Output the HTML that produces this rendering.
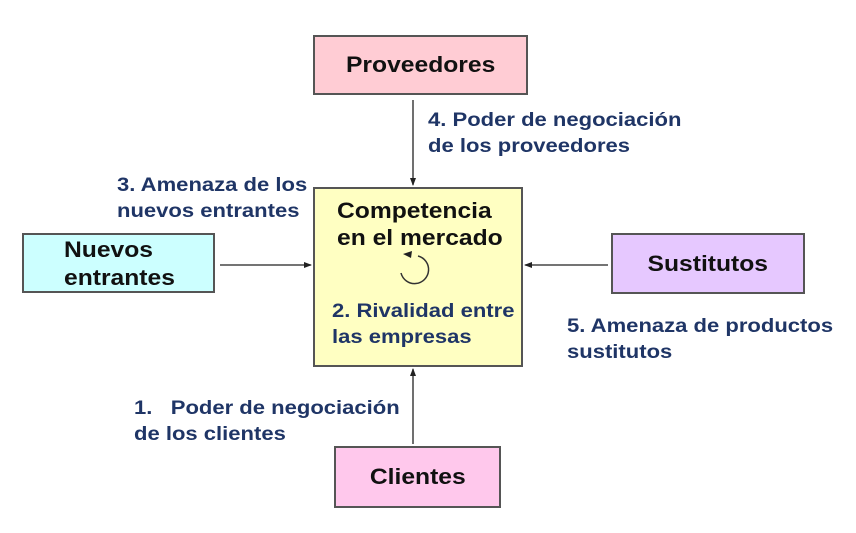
<!DOCTYPE html>
<html><head><meta charset="utf-8"><style>
body{margin:0;width:856px;height:533px;background:#fff;position:relative;overflow:hidden;font-family:"Liberation Sans",Arial,sans-serif;font-weight:bold}
.b{position:absolute;border:2px solid #555;box-sizing:border-box;color:#111;font-size:22px;display:flex;align-items:center;justify-content:center;text-align:center;line-height:1.15}
.b span,.h{display:inline-block;transform:scaleX(1.12)}
.t{position:absolute;color:#1f3566;font-size:19.5px;line-height:26px;white-space:nowrap;transform:scaleX(1.13);transform-origin:0 0}
</style></head><body>
<div class="b" style="left:313px;top:35px;width:215px;height:60px;background:#ffccd4"><span>Proveedores</span></div>
<div class="b" style="left:22px;top:233px;width:193px;height:60px;background:#ccffff;display:block;text-align:left;padding:1px 0 0 40px;line-height:28px"><span style="transform-origin:0 0">Nuevos<br>entrantes</span></div>
<div class="b" style="left:611px;top:233px;width:194px;height:61px;background:#e6c8ff"><span>Sustitutos</span></div>
<div class="b" style="left:334px;top:446px;width:167px;height:62px;background:#ffc8ec"><span>Clientes</span></div>
<div class="b" style="left:313px;top:187px;width:210px;height:180px;background:#ffffc2;display:block"></div>
<div class="t" style="left:337px;top:197px;color:#111;font-size:22px;line-height:27px;transform:scaleX(1.12)">Competencia<br>en el mercado</div>
<div class="t" style="left:332px;top:298px">2. Rivalidad entre<br>las empresas</div>
<div class="t" style="left:428px;top:107px">4. Poder de negociación<br>de los proveedores</div>
<div class="t" style="left:117px;top:172px">3. Amenaza de los<br>nuevos entrantes</div>
<div class="t" style="left:567px;top:313px">5. Amenaza de productos<br>sustitutos</div>
<div class="t" style="left:134px;top:395px">1.&nbsp;&nbsp; Poder de negociación<br>de los clientes</div>
<svg width="856" height="533" style="position:absolute;left:0;top:0">
<defs><marker id="a" markerWidth="8" markerHeight="8" refX="7" refY="4" orient="auto" markerUnits="userSpaceOnUse"><path d="M0,1 L8,4 L0,7z" fill="#222"/></marker></defs>
<g stroke="#222" stroke-width="1.3">
<line x1="413" y1="100" x2="413" y2="185" marker-end="url(#a)"/>
<line x1="220" y1="265" x2="311" y2="265" marker-end="url(#a)"/>
<line x1="608" y1="265" x2="525" y2="265" marker-end="url(#a)"/>
<line x1="413" y1="444" x2="413" y2="369" marker-end="url(#a)"/>
</g>
<path d="M418,256 A14,14 0 1 1 401,273" fill="none" stroke="#333" stroke-width="1.5"/>
<path d="M403,254 L412,251 L411,258z" fill="#222"/>
</svg>
</body></html>
